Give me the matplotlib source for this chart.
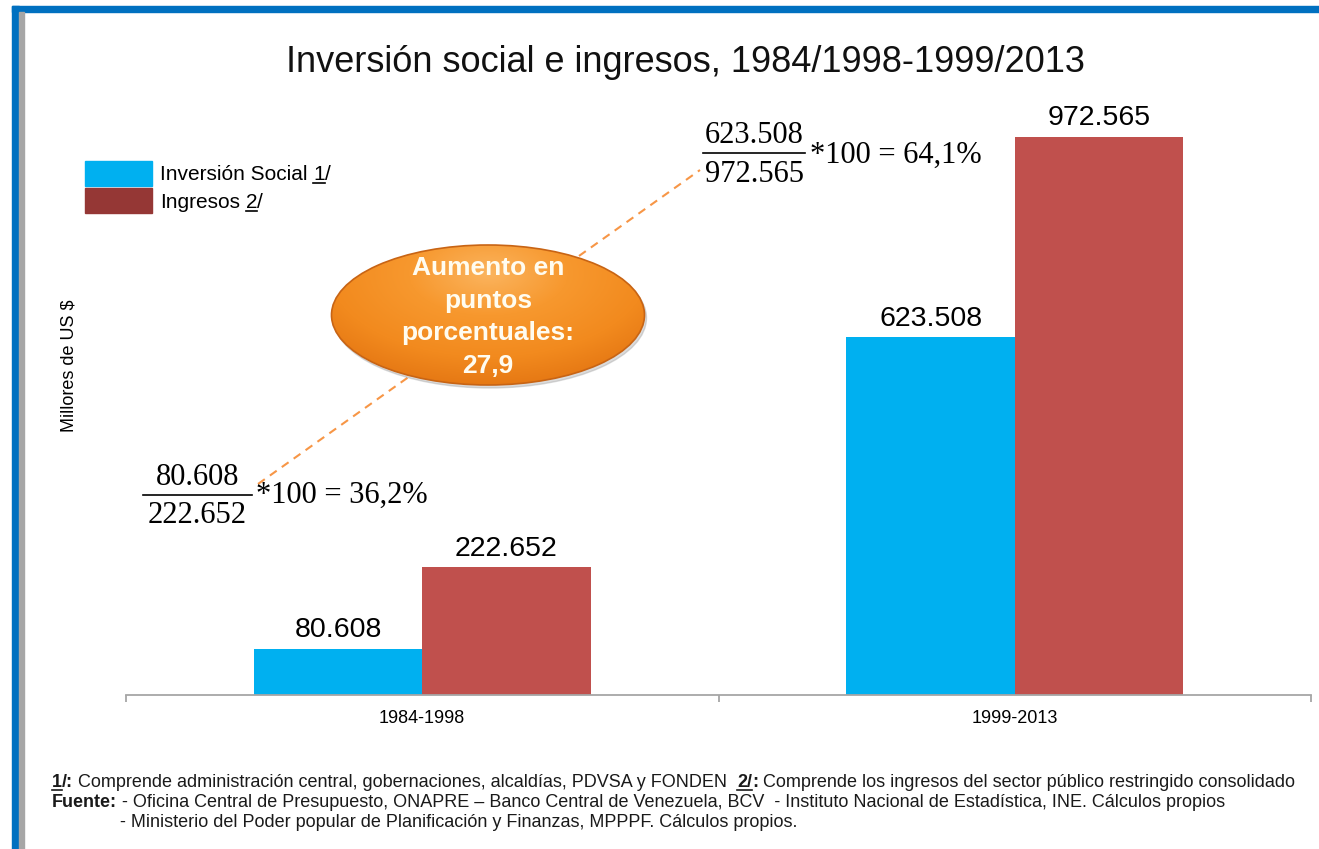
import numpy as np
import matplotlib.pyplot as plt
from matplotlib.patches import Ellipse, Rectangle
from matplotlib.colors import LinearSegmentedColormap

# datos
periodos = ['1984-1998', '1999-2013']
inversion_social = [80.608, 623.508]
ingresos = [222.652, 972.565]
etiq_inversion = ['80.608', '623.508']
etiq_ingresos = ['222.652', '972.565']

W, H = 1319, 849
SANS = ['Liberation Sans', 'DejaVu Sans']
SERIF = ['Liberation Serif', 'DejaVu Serif']
AZUL = '#00B0F0'
ROJO = '#C0504D'

fig = plt.figure(figsize=(W / 100, H / 100), dpi=100)
fig.patch.set_facecolor('white')

# grafico de barras
ax = fig.add_axes([126 / W, 1 - 695 / H, (1311 - 126) / W, (695 - 100) / H])
x = np.arange(len(periodos))
w = 0.284
b1 = ax.bar(x - w / 2, inversion_social, w, color=AZUL)
b2 = ax.bar(x + w / 2, ingresos, w, color=ROJO)
ax.set_xlim(-0.5, 1.5)
ax.set_ylim(0, 1037)
ax.set_yticks([])
for s in ['left', 'top', 'right']:
    ax.spines[s].set_visible(False)
ax.spines['bottom'].set_color('#A6A6A6')
ax.spines['bottom'].set_linewidth(1.3)
ax.set_xticks(x, periodos)
ax.set_xticks([-0.5, 0.5, 1.5], minor=True)
ax.tick_params(axis='x', which='major', length=0, pad=11, labelsize=13)
ax.tick_params(axis='x', which='minor', length=5, color='#A6A6A6', width=1.3)
for lb in ax.get_xticklabels():
    lb.set_family(SANS)
ax.bar_label(b1, labels=etiq_inversion, padding=4, fontsize=20.5, family=SANS)
ax.bar_label(b2, labels=etiq_ingresos, padding=4, fontsize=20.5, family=SANS)

# capa de anotaciones en pixeles
ov = fig.add_axes([0, 0, 1, 1], zorder=5)
ov.set_xlim(0, W)
ov.set_ylim(H, 0)
ov.axis('off')
ov.patch.set_alpha(0)

# marco
ov.add_patch(Rectangle((12, 6), W, 6, color='#0070C0'))
ov.add_patch(Rectangle((12, 6), 7, H, color='#0070C0'))
ov.add_patch(Rectangle((19, 12), 5, H, color='#A6A6A6'))

ov.text(685, 62, 'Inversión social e ingresos, 1984/1998-1999/2013', fontsize=26,
        family=SANS, ha='center', va='center', color='#111111')
ov.text(69, 366, 'Millores de US $', rotation=90, fontsize=13, family=SANS,
        ha='center', va='center')

renderer = fig.canvas.get_renderer()


def runs(x0, y, parts, size, family=SANS, color='black'):
    sp = size * 100 / 72 * 0.278
    xx = x0
    for txt, bold, ul, gap in parts:
        t = ov.text(xx, y, txt, fontsize=size, family=family, color=color,
                    fontweight='bold' if bold else 'normal', va='baseline', ha='left')
        bb = t.get_window_extent(renderer)
        if ul:
            ov.plot([bb.x0, bb.x1], [y + 2.5, y + 2.5], color=color, lw=1.2)
        xx = bb.x1 + gap * sp
    return xx


# leyenda
ov.add_patch(Rectangle((85, 161), 67, 25, color=AZUL))
ov.add_patch(Rectangle((85, 188), 67, 25, color='#953735'))
runs(160, 180, [('Inversión Social', False, False, 1), ('1', False, True, 0),
                ('/', False, False, 0)], 15)
runs(160, 208, [('Ingresos', False, False, 1), ('2', False, True, 0),
                ('/', False, False, 0)], 15)

# linea punteada y elipse
ov.plot([258, 700], [484, 170], ls=(0, (4, 3)), color='#F79646', lw=1.5, zorder=1)
ex, ey, ew, eh = 488, 315, 313, 140
sombra = Ellipse((ex + 2, ey + 3), ew, eh, color='#999999', alpha=0.35, zorder=2)
ov.add_patch(sombra)
yy, xx = np.mgrid[0:1:200j, 0:1:400j]
d = np.sqrt(((xx - 0.5) / 0.8) ** 2 + ((yy - 0.2) / 0.95) ** 2)
cmap = LinearSegmentedColormap.from_list('nar', ['#FBB45E', '#F7982E', '#F28A1E', '#E0700F'])
im = ov.imshow(d, cmap=cmap, vmin=0, vmax=0.95, extent=(ex - ew / 2, ex + ew / 2, ey + eh / 2, ey - eh / 2),
               aspect='auto', zorder=3)
borde = Ellipse((ex, ey), ew, eh, facecolor='none', edgecolor='#C86414', lw=1.2, zorder=4)
ov.add_patch(borde)
im.set_clip_path(borde)
ov.set_xlim(0, W)
ov.set_ylim(H, 0)
ov.text(ex, 317, 'Aumento en\npuntos\nporcentuales:\n27,9', color='#FFFCF0', fontsize=19,
        fontweight='bold', family=SANS, ha='center', va='center', linespacing=1.45, zorder=6)


# formulas
def fraccion(xl, xr, yl, num, den, resto, xres, bnum, bden, bres):
    xc = (xl + xr) / 2
    ov.text(xc, bnum, num, fontsize=22, family=SERIF, ha='center', va='baseline')
    ov.text(xc, bden, den, fontsize=22, family=SERIF, ha='center', va='baseline')
    ov.plot([xl, xr], [yl, yl], color='black', lw=1.2)
    ov.text(xres, bres, resto, fontsize=22, family=SERIF, ha='left', va='baseline')


fraccion(143, 252, 495, etiq_inversion[0], etiq_ingresos[0], '*100 = 36,2%', 256, 485, 523, 503)
fraccion(703, 805, 153, etiq_inversion[1], etiq_ingresos[1], '*100 = 64,1%', 810, 143, 182, 163)

# notas al pie
fs = 13
runs(52, 787, [('1', True, True, 0), ('/:', True, False, 1),
               ('Comprende administración central, gobernaciones, alcaldías, PDVSA y FONDEN', False, False, 2),
               ('2/', True, True, 0), (':', True, False, 1),
               ('Comprende los ingresos del sector público restringido consolidado', False, False, 0)],
     fs, color='#1a1a1a')
runs(52, 807, [('Fuente:', True, False, 1),
               ('- Oficina Central de Presupuesto, ONAPRE – Banco Central de Venezuela, BCV  - Instituto Nacional de Estadística, INE. Cálculos propios', False, False, 0)],
     fs, color='#1a1a1a')
runs(120, 827, [('- Ministerio del Poder popular de Planificación y Finanzas, MPPPF. Cálculos propios.', False, False, 0)],
     fs, color='#1a1a1a')

fig.savefig('out.png', dpi=100)
